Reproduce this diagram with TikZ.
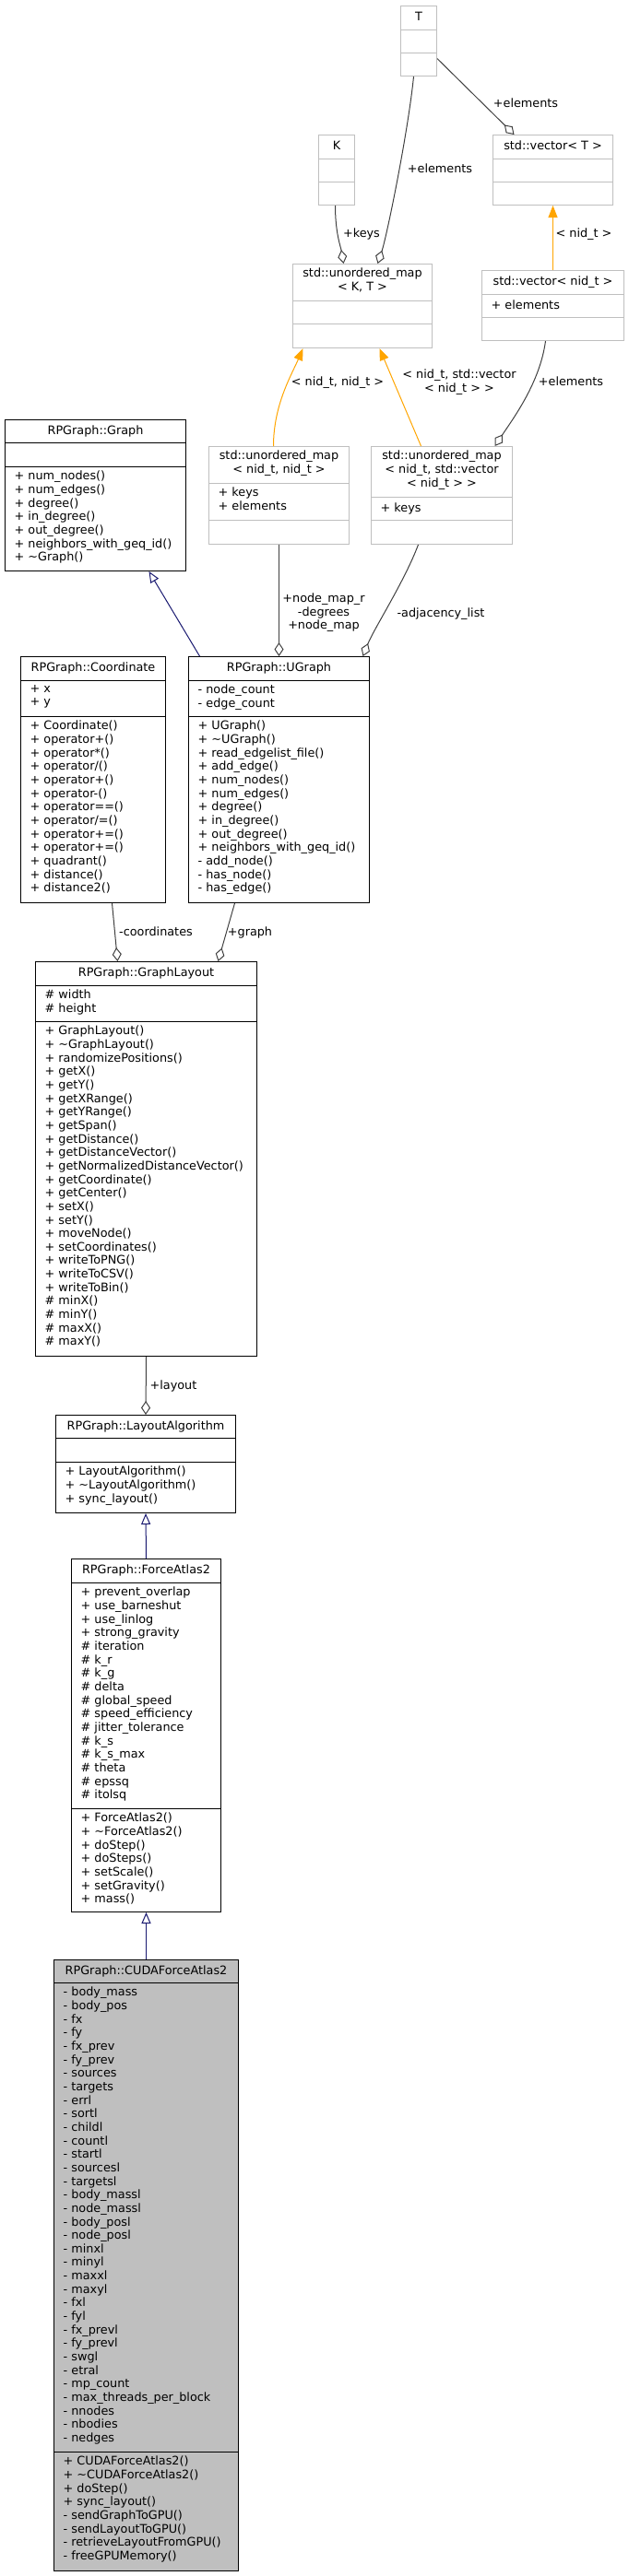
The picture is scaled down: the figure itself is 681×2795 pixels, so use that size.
\documentclass[tikz,border=0pt]{standalone}
\usepackage{fontspec}
\setmainfont{DejaVu Sans}
\usetikzlibrary{arrows.meta}

\definecolor{grey75}{HTML}{BFBFBF}
\definecolor{grey25}{HTML}{404040}
\definecolor{midnightblue}{HTML}{191970}
\definecolor{tmplorange}{HTML}{FFA500}

\newcommand{\umlfont}{\fontsize{12.8}{14.65}\selectfont}
\newcommand{\umlstrut}{\rule{0pt}{11pt}}

\tikzset{
	classbox/.style={draw=black, line width=1pt, fill=white, anchor=north west, inner sep=0pt},
	extbox/.style={classbox, draw=grey75},
	curbox/.style={classbox, fill=grey75},
	docline/.style={draw=black, line width=1pt},
	extline/.style={draw=grey75, line width=1pt},
	member/.style={font=\umlfont, align=left, anchor=north west, inner sep=0pt, execute at begin node=\umlstrut},
	ctitle/.style={font=\umlfont, align=center, anchor=north, inner sep=0pt, execute at begin node=\umlstrut},
	elabel/.style={ctitle},
	usesedge/.style={draw=grey25, line width=1pt, -{Diamond[open, length=15pt, width=10pt]}},
	inhedge/.style={draw=midnightblue, line width=1pt, -{Triangle[open, length=12pt, width=10pt]}},
	tmpledge/.style={draw=tmplorange, line width=1pt, -{Triangle[length=13pt, width=10pt]}},
}

\begin{document}
\begin{tikzpicture}[x=1pt, y=-1pt]
		\newcommand{\umlsep}[3]{
			\draw [#3] ([yshift=-#2pt]#1.north west) -- ([yshift=-#2pt]#1.north east);
		}
		\useasboundingbox (0,0) rectangle (681,2795);
		%Template parameter T
		\node [extbox, minimum width=39pt, minimum height=76pt] (tparam) at (434,6) {};
		\umlsep{tparam}{26}{extline}
		\umlsep{tparam}{51}{extline}
		\node [ctitle] (tparam-name) at ([yshift=-5pt]tparam.north) {T};
		%Template parameter K
		\node [extbox, minimum width=39pt, minimum height=76pt] (kparam) at (345,146) {};
		\umlsep{kparam}{26}{extline}
		\umlsep{kparam}{51}{extline}
		\node [ctitle] (kparam-name) at ([yshift=-5pt]kparam.north) {K};
		%std::vector< T >
		\node [extbox, minimum width=130pt, minimum height=76pt] (vect) at (534,146) {};
		\umlsep{vect}{26}{extline}
		\umlsep{vect}{51}{extline}
		\node [ctitle] (vect-name) at ([yshift=-5pt]vect.north) {std::vector< T >};
		%std::unordered_map< K, T >
		\node [extbox, minimum width=151pt, minimum height=91pt] (mapkt) at (317,286) {};
		\umlsep{mapkt}{40}{extline}
		\umlsep{mapkt}{65}{extline}
		\node [ctitle] (mapkt-name) at ([yshift=-5pt]mapkt.north) {std::unordered\_map\\< K, T >};
		%std::vector< nid_t >
		\node [extbox, minimum width=154pt, minimum height=76pt] (vecnid) at (522,293) {};
		\umlsep{vecnid}{26}{extline}
		\umlsep{vecnid}{51}{extline}
		\node [ctitle] (vecnid-name) at ([yshift=-5pt]vecnid.north) {std::vector< nid\_t >};
		\node [member] (vecnid-attr) at ([xshift=10.5pt, yshift=-31pt]vecnid.north west) {+ elements};
		%RPGraph::Graph
		\node [classbox, minimum width=196pt, minimum height=164pt] (graph) at (5,455) {};
		\umlsep{graph}{25}{docline}
		\umlsep{graph}{51}{docline}
		\node [ctitle] (graph-name) at ([yshift=-5pt]graph.north) {RPGraph::Graph};
		\node [member] (graph-meth) at ([xshift=10.5pt, yshift=-56pt]graph.north west) {+ num\_nodes()\\+ num\_edges()\\+ degree()\\+ in\_degree()\\+ out\_degree()\\+ neighbors\_with\_geq\_id()\\+ \textasciitilde{}Graph()};
		%std::unordered_map< nid_t, nid_t >
		\node [extbox, minimum width=152pt, minimum height=106pt] (mapnn) at (226,484) {};
		\umlsep{mapnn}{40}{extline}
		\umlsep{mapnn}{80}{extline}
		\node [ctitle] (mapnn-name) at ([yshift=-5pt]mapnn.north) {std::unordered\_map\\< nid\_t, nid\_t >};
		\node [member] (mapnn-attr) at ([xshift=10.5pt, yshift=-45pt]mapnn.north west) {+ keys\\+ elements};
		%std::unordered_map< nid_t, std::vector< nid_t > >
		\node [extbox, minimum width=153pt, minimum height=106pt] (mapnv) at (402,484) {};
		\umlsep{mapnv}{55}{extline}
		\umlsep{mapnv}{80}{extline}
		\node [ctitle] (mapnv-name) at ([yshift=-5pt]mapnv.north) {std::unordered\_map\\< nid\_t, std::vector\\< nid\_t > >};
		\node [member] (mapnv-attr) at ([xshift=10.5pt, yshift=-60pt]mapnv.north west) {+ keys};
		%RPGraph::Coordinate
		\node [classbox, minimum width=157pt, minimum height=267pt] (coord) at (22,712) {};
		\umlsep{coord}{26}{docline}
		\umlsep{coord}{65}{docline}
		\node [ctitle] (coord-name) at ([yshift=-5pt]coord.north) {RPGraph::Coordinate};
		\node [member] (coord-attr) at ([xshift=10.5pt, yshift=-31pt]coord.north west) {+ x\\+ y};
		\node [member] (coord-meth) at ([xshift=10.5pt, yshift=-70pt]coord.north west) {+ Coordinate()\\+ operator+()\\+ operator*()\\+ operator/()\\+ operator+()\\+ operator-()\\+ operator==()\\+ operator/=()\\+ operator+=()\\+ operator+=()\\+ quadrant()\\+ distance()\\+ distance2()};
		%RPGraph::UGraph
		\node [classbox, minimum width=196pt, minimum height=267pt] (ugraph) at (204,712) {};
		\umlsep{ugraph}{26}{docline}
		\umlsep{ugraph}{65}{docline}
		\node [ctitle] (ugraph-name) at ([yshift=-5pt]ugraph.north) {RPGraph::UGraph};
		\node [member] (ugraph-attr) at ([xshift=10.5pt, yshift=-31pt]ugraph.north west) {- node\_count\\- edge\_count};
		\node [member] (ugraph-meth) at ([xshift=10.5pt, yshift=-70pt]ugraph.north west) {+ UGraph()\\+ \textasciitilde{}UGraph()\\+ read\_edgelist\_file()\\+ add\_edge()\\+ num\_nodes()\\+ num\_edges()\\+ degree()\\+ in\_degree()\\+ out\_degree()\\+ neighbors\_with\_geq\_id()\\- add\_node()\\- has\_node()\\- has\_edge()};
		%RPGraph::GraphLayout
		\node [classbox, minimum width=240pt, minimum height=428pt] (glayout) at (38,1043) {};
		\umlsep{glayout}{26}{docline}
		\umlsep{glayout}{65}{docline}
		\node [ctitle] (glayout-name) at ([yshift=-5pt]glayout.north) {RPGraph::GraphLayout};
		\node [member] (glayout-attr) at ([xshift=10.5pt, yshift=-31pt]glayout.north west) {\# width\\\# height};
		\node [member] (glayout-meth) at ([xshift=10.5pt, yshift=-70pt]glayout.north west) {+ GraphLayout()\\+ \textasciitilde{}GraphLayout()\\+ randomizePositions()\\+ getX()\\+ getY()\\+ getXRange()\\+ getYRange()\\+ getSpan()\\+ getDistance()\\+ getDistanceVector()\\+ getNormalizedDistanceVector()\\+ getCoordinate()\\+ getCenter()\\+ setX()\\+ setY()\\+ moveNode()\\+ setCoordinates()\\+ writeToPNG()\\+ writeToCSV()\\+ writeToBin()\\\# minX()\\\# minY()\\\# maxX()\\\# maxY()};
		%RPGraph::LayoutAlgorithm
		\node [classbox, minimum width=195pt, minimum height=106pt] (lalgo) at (60,1535) {};
		\umlsep{lalgo}{25}{docline}
		\umlsep{lalgo}{51}{docline}
		\node [ctitle] (lalgo-name) at ([yshift=-5pt]lalgo.north) {RPGraph::LayoutAlgorithm};
		\node [member] (lalgo-meth) at ([xshift=10.5pt, yshift=-56pt]lalgo.north west) {+ LayoutAlgorithm()\\+ \textasciitilde{}LayoutAlgorithm()\\+ sync\_layout()};
		%RPGraph::ForceAtlas2
		\node [classbox, minimum width=162pt, minimum height=383pt] (fa2) at (77,1691) {};
		\umlsep{fa2}{26}{docline}
		\umlsep{fa2}{271}{docline}
		\node [ctitle] (fa2-name) at ([yshift=-5pt]fa2.north) {RPGraph::ForceAtlas2};
		\node [member] (fa2-attr) at ([xshift=10.5pt, yshift=-31pt]fa2.north west) {+ prevent\_overlap\\+ use\_barneshut\\+ use\_linlog\\+ strong\_gravity\\\# iteration\\\# k\_r\\\# k\_g\\\# delta\\\# global\_speed\\\# speed\_efficiency\\\# jitter\_tolerance\\\# k\_s\\\# k\_s\_max\\\# theta\\\# epssq\\\# itolsq};
		\node [member] (fa2-meth) at ([xshift=10.5pt, yshift=-276pt]fa2.north west) {+ ForceAtlas2()\\+ \textasciitilde{}ForceAtlas2()\\+ doStep()\\+ doSteps()\\+ setScale()\\+ setGravity()\\+ mass()};
		%RPGraph::CUDAForceAtlas2
		\node [curbox, minimum width=200pt, minimum height=663pt] (cuda) at (58,2126) {};
		\umlsep{cuda}{25}{docline}
		\umlsep{cuda}{534}{docline}
		\node [ctitle] (cuda-name) at ([yshift=-5pt]cuda.north) {RPGraph::CUDAForceAtlas2};
		\node [member] (cuda-attr) at ([xshift=10.5pt, yshift=-30pt]cuda.north west) {- body\_mass\\- body\_pos\\- fx\\- fy\\- fx\_prev\\- fy\_prev\\- sources\\- targets\\- errl\\- sortl\\- childl\\- countl\\- startl\\- sourcesl\\- targetsl\\- body\_massl\\- node\_massl\\- body\_posl\\- node\_posl\\- minxl\\- minyl\\- maxxl\\- maxyl\\- fxl\\- fyl\\- fx\_prevl\\- fy\_prevl\\- swgl\\- etral\\- mp\_count\\- max\_threads\_per\_block\\- nnodes\\- nbodies\\- nedges};
		\node [member] (cuda-meth) at ([xshift=10.5pt, yshift=-539pt]cuda.north west) {+ CUDAForceAtlas2()\\+ \textasciitilde{}CUDAForceAtlas2()\\+ doStep()\\+ sync\_layout()\\- sendGraphToGPU()\\- sendLayoutToGPU()\\- retrieveLayoutFromGPU()\\- freeGPUMemory()};
		%Usage relations
		\draw [usesedge] ([xshift=-5.5pt]tparam.south) .. controls +(-6,60) and +(10,-30) .. ([xshift=16.5pt]mapkt.north);
		\draw [usesedge] ([xshift=-1.5pt]kparam.south) .. controls +(0,30) and +(-3,-18) .. ([xshift=-20.5pt]mapkt.north);
		\draw [usesedge] ([yshift=-19pt]tparam.east) -- ([xshift=-42pt]vect.north);
		\draw [usesedge] ([xshift=-8pt]vecnid.south) .. controls +(-6,45) and +(20,-30) .. ([xshift=57.5pt]mapnv.north);
		\draw [usesedge] (mapnn.south) -- (ugraph.north);
		\draw [usesedge] ([xshift=-25.5pt]mapnv.south) .. controls +(-15,40) and +(12,-30) .. ([xshift=91pt]ugraph.north);
		\draw [usesedge] ([xshift=20.5pt]coord.south) -- ([xshift=-31pt]glayout.north);
		\draw [usesedge] ([xshift=-48pt]ugraph.south) -- ([xshift=78pt]glayout.north);
		\draw [usesedge] (glayout.south) -- (lalgo.north);
		%Template instances
		\draw [tmpledge] (vecnid.north) -- (vect.south);
		\draw [tmpledge] ([xshift=-6pt]mapnn.north) .. controls +(0,-45) and +(-12,28) .. ([xshift=-64.5pt]mapkt.south);
		\draw [tmpledge] ([xshift=-22.5pt]mapnv.north) -- ([xshift=18.5pt]mapkt.south);
		%Inheritance
		\draw [inhedge] ([xshift=-86pt]ugraph.north) -- ([xshift=58pt]graph.south);
		\draw [inhedge] (fa2.north) -- (lalgo.south);
		\draw [inhedge] (cuda.north) -- (fa2.south);
		%Edge labels
		\node [elabel] (lbl-keys) at (392,246.5) {+keys};
		\node [elabel] (lbl-telem) at (477,176.5) {+elements};
		\node [elabel] (lbl-velem) at (570,105.5) {+elements};
		\node [elabel] (lbl-nid) at (633,246.5) {< nid\_t >};
		\node [elabel] (lbl-nidnid) at (366,407.5) {< nid\_t, nid\_t >};
		\node [elabel] (lbl-nidvec) at (498,400.5) {< nid\_t, std::vector\\< nid\_t > >};
		\node [elabel] (lbl-nelem) at (619,407.5) {+elements};
		\node [elabel] (lbl-nodemap) at (351,643.5) {+node\_map\_r\\-degrees\\+node\_map};
		\node [elabel] (lbl-adj) at (478,658.5) {-adjacency\_list};
		\node [elabel] (lbl-coords) at (169,1004.5) {-coordinates};
		\node [elabel] (lbl-graph) at (271,1004.5) {+graph};
		\node [elabel] (lbl-layout) at (188,1496.5) {+layout};
\end{tikzpicture}
\end{document}
